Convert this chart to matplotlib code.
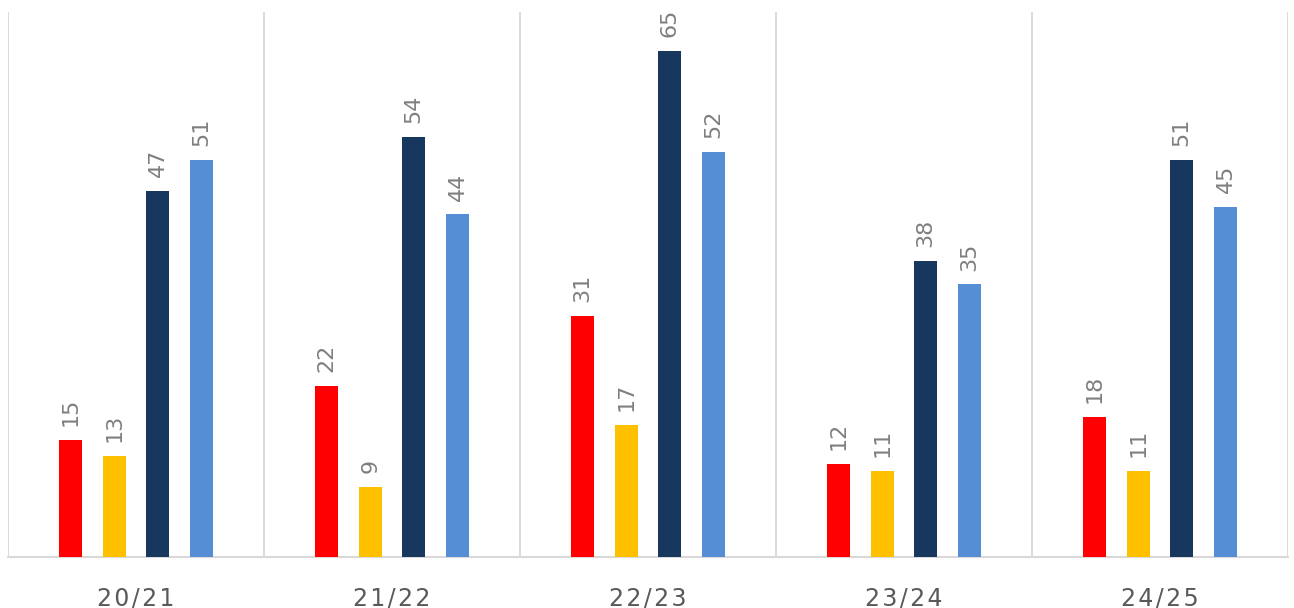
import numpy as np
import matplotlib.pyplot as plt

seasons = ['20/21', '21/22', '22/23', '23/24', '24/25']
s1 = [15, 22, 31, 12, 18]
s2 = [13, 9, 17, 11, 11]
s3 = [47, 54, 65, 38, 51]
s4 = [51, 44, 52, 35, 45]

colors = ['#FF0000', '#FFC000', '#17375E', '#558ED5']
offsets = [-0.256, -0.084, 0.084, 0.256]
width = 0.09

fig = plt.figure(figsize=(12.94, 6.08), dpi=100)
ax = fig.add_axes([8/1294, 51/608, 1280/1294, 545/608])

x = np.arange(len(seasons))
for vals, col, off in zip([s1, s2, s3, s4], colors, offsets):
    bars = ax.bar(x + off, vals, width, color=col, zorder=3)
    for b, v in zip(bars, vals):
        ax.annotate(str(v), (b.get_x() + b.get_width()/2, v), xytext=(0, 10),
                    textcoords='offset points', rotation=90, ha='center', va='bottom',
                    fontsize=16, color='#7F7F7F')

ax.set_xlim(-0.5, len(seasons) - 0.5)
ax.set_ylim(0, 70)
for b in np.arange(-0.5, len(seasons), 1):
    ax.axvline(b, color='#D9D9D9', lw=1.3, zorder=1)

for s in ['top', 'left', 'right']:
    ax.spines[s].set_visible(False)
ax.spines['bottom'].set_color('#D9D9D9')
ax.spines['bottom'].set_linewidth(1.5)
ax.set_yticks([])
ax.set_xticks(x)
ax.set_xticklabels(['\u200a'.join(s) for s in seasons], fontsize=17, color='#595959')
ax.tick_params(axis='x', length=0, pad=21)

fig.savefig('out.png', dpi=100)
